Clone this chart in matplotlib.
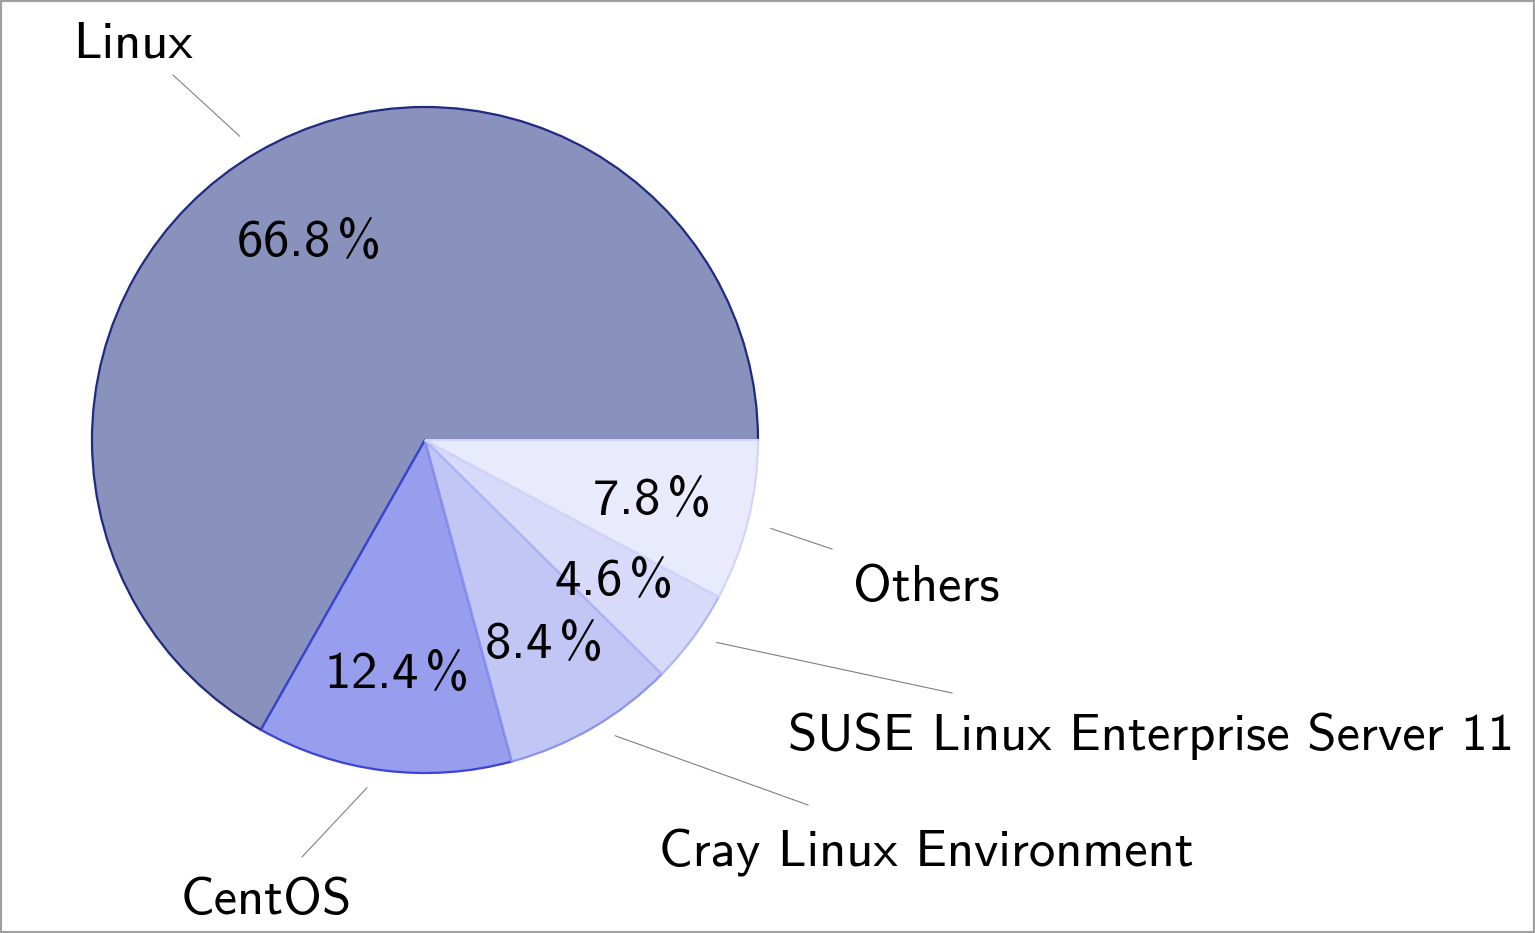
import numpy as np
import matplotlib.pyplot as plt
from matplotlib.patches import Rectangle

plt.rcParams['mathtext.fontset'] = 'custom'
plt.rcParams['mathtext.rm'] = 'cmss10'
plt.rcParams['mathtext.it'] = 'cmss10'
plt.rcParams['mathtext.bf'] = 'cmss10'

# data
systems = ['Linux', 'CentOS', 'Cray Linux Environment',
           'SUSE Linux Enterprise Server 11', 'Others']
shares = [66.8, 12.4, 8.4, 4.6, 7.8]

fills = ['#8991bd', '#989eee', '#c2c6f5', '#d8daf9', '#e9ebfc']
edges = ['#1f2a80', '#3b42d8', '#8c93ee', '#b0b5f4', '#d2d5fa']

# layout in pixels (origin top-left)
W, H = 1535, 933
cx, cy, R = 425, 440, 333
label_pos = [(133, 58), (266, 914), (926, 865), (1151, 750), (926, 601)]
leader_end = [(173, 75), (302, 857), (808, 805), (952, 693), (832, 549)]
gap = 24  # leader line starts this far from the arc

fig = plt.figure(figsize=(W / 100, H / 100), dpi=100)
ax = fig.add_axes([0, 0, 1, 1])

font = dict(family='cmss10', size=38, color='black')

wedges = ax.pie(shares, colors=fills, startangle=0, counterclock=True,
                center=(cx, H - cy), radius=R, frame=True,
                wedgeprops=dict(linewidth=1.6))[0]
ax.axis('off')
ax.set_xlim(0, W)
ax.set_ylim(0, H)
ax.set_aspect('equal')
for w, ec in zip(wedges, edges):
    w.set_edgecolor(ec)

# percentage labels and outside labels with leader lines
for w, val, name, (lx, ly), (ex, ey) in zip(wedges, shares, systems,
                                            label_pos, leader_end):
    mid = np.deg2rad((w.theta1 + w.theta2) / 2)
    px = cx + 0.70 * R * np.cos(mid)
    py = H - cy + 0.70 * R * np.sin(mid) - 4
    ax.text(px, py, r'$\mathrm{%.1f\,\%%}$' % val, ha='center', va='center',
            **font)
    ax_, ay_ = cx + R * np.cos(mid), H - cy + R * np.sin(mid)
    ey = H - ey
    d = np.hypot(ex - ax_, ey - ay_)
    sx = ax_ + gap * (ex - ax_) / d
    sy = ay_ + gap * (ey - ay_) / d
    ax.plot([sx, ex], [sy, ey], color='#808080', lw=0.8)
    ax.text(lx, H - ly, name, ha='center', va='baseline', **font)

fig.patches.append(Rectangle((0, 0), 1, 1, transform=fig.transFigure,
                             fill=False, edgecolor='#a0a0a0', linewidth=3))

fig.savefig('out.png', dpi=100)
